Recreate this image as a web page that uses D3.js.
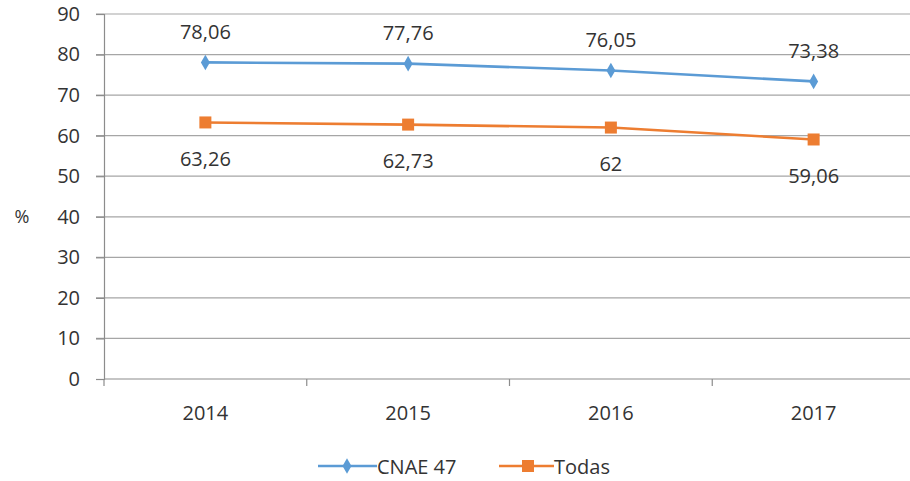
<!DOCTYPE html>
<html><head><meta charset="utf-8">
<script src="https://cdn.jsdelivr.net/npm/d3@7"></script>
<style>body{margin:0;background:#fff}text{font-family:"Open Sans","DejaVu Sans",sans-serif;fill:#333}</style>
</head><body><svg id="c" width="910" height="481"></svg>
<script>
const years = ["2014","2015","2016","2017"];
const cnae47 = [78.06, 77.76, 76.05, 73.38];
const todas = [63.26, 62.73, 62, 59.06];
const cnaeLabels = ["78,06","77,76","76,05","73,38"];
const todasLabels = ["63,26","62,73","62","59,06"];
const yTicks = [0,10,20,30,40,50,60,70,80,90];

const svg = d3.select("#c");
const m = {l:104, r:-5, t:14, b:102};
const W = 910, H = 481;
const FS = 20;
const x = d3.scaleBand().domain(years).range([m.l, W - m.r]);
const y = d3.scaleLinear().domain([0,90]).range([H - m.b, m.t]);

// gridlines
svg.append("g").selectAll("line").data(yTicks.filter(d=>d>0)).join("line")
  .attr("x1", m.l-8).attr("x2", W).attr("y1", d=>y(d)).attr("y2", d=>y(d))
  .attr("stroke", "#a6a6a6").attr("stroke-width", 1.2);

// y axis
const ya = svg.append("g").attr("transform", `translate(${m.l},0)`)
  .call(d3.axisLeft(y).tickValues(yTicks).tickSize(8).tickPadding(16));
ya.select(".domain").attr("stroke", "#8c8c8c").attr("stroke-width", 1.2);
ya.selectAll(".tick line").attr("stroke", "#8c8c8c").attr("stroke-width", 1.2);
ya.selectAll("text").attr("font-size", FS).attr("fill", "#333").attr("font-family", "Open Sans");

// x axis
const xa = svg.append("g").attr("transform", `translate(0,${y(0)})`);
xa.append("line").attr("x1", m.l).attr("x2", W).attr("stroke", "#8c8c8c").attr("stroke-width", 1.2);
const bounds = years.map(d => x(d)).concat([x(years[years.length-1]) + x.bandwidth()]);
xa.selectAll("line.tk").data(bounds).join("line").attr("class","tk")
  .attr("x1", d=>d).attr("x2", d=>d).attr("y1", 0).attr("y2", 7)
  .attr("stroke", "#8c8c8c").attr("stroke-width", 1.2);
xa.selectAll("text").data(years).join("text")
  .attr("x", d => x(d) + x.bandwidth()/2).attr("y", 33)
  .attr("dominant-baseline","central")
  .attr("text-anchor", "middle").attr("font-size", FS).text(d=>d);

svg.append("text").attr("x", 22).attr("y", 216).attr("dominant-baseline","central").attr("text-anchor","middle").attr("font-size", 18).text("%");

const cx = d => x(d) + x.bandwidth()/2;
const blue = "#5b9bd5", orange = "#ed7d31";
const line = d3.line().x((d,i)=>cx(years[i])).y(d=>y(d));

svg.append("path").datum(cnae47).attr("d", line).attr("fill","none").attr("stroke", blue).attr("stroke-width", 2.6);
svg.append("path").datum(todas).attr("d", line).attr("fill","none").attr("stroke", orange).attr("stroke-width", 2.6);

const diamond = d3.symbol().type(d3.symbolDiamond).size(70);
svg.append("g").selectAll("path").data(cnae47).join("path")
  .attr("d", diamond).attr("transform", (d,i)=>`translate(${cx(years[i])},${y(d)})`).attr("fill", blue);
svg.append("g").selectAll("rect").data(todas).join("rect")
  .attr("x", (d,i)=>cx(years[i])-6).attr("y", d=>y(d)-6).attr("width",12).attr("height",12).attr("fill", orange);

svg.append("g").selectAll("text").data(cnae47).join("text")
  .attr("x", (d,i)=>cx(years[i])).attr("y", d=>y(d)-31).attr("dominant-baseline","central")
  .attr("text-anchor","middle").attr("font-size",FS)
  .text((d,i)=>cnaeLabels[i]);
svg.append("g").selectAll("text").data(todas).join("text")
  .attr("x", (d,i)=>cx(years[i])).attr("y", d=>y(d)+36).attr("dominant-baseline","central")
  .attr("text-anchor","middle").attr("font-size",FS)
  .text((d,i)=>todasLabels[i]);

// legend
const lg = svg.append("g").attr("transform","translate(0,466)");
lg.append("line").attr("x1",318).attr("x2",377).attr("stroke",blue).attr("stroke-width",2.6);
lg.append("path").attr("d", diamond).attr("transform","translate(347,0)").attr("fill",blue);
lg.append("text").attr("x",377).attr("y",0).attr("dominant-baseline","central").attr("font-size",FS).text("CNAE 47");
lg.append("line").attr("x1",499).attr("x2",554).attr("stroke",orange).attr("stroke-width",2.6);
lg.append("rect").attr("x",522).attr("y",-6).attr("width",12).attr("height",12).attr("fill",orange);
lg.append("text").attr("x",554).attr("y",0).attr("dominant-baseline","central").attr("font-size",FS).text("Todas");
</script></body></html>
